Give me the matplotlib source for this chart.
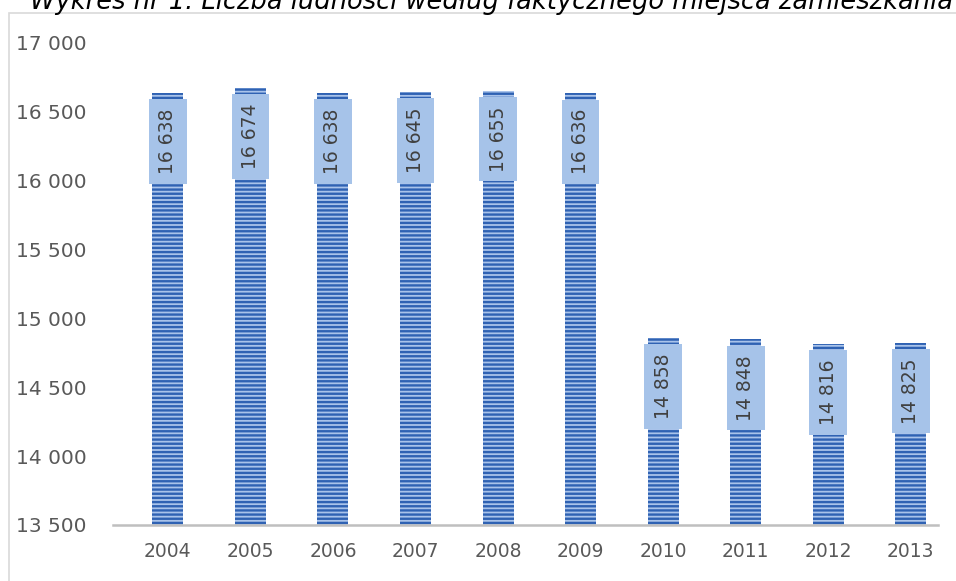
import matplotlib
matplotlib.use("Agg")
import matplotlib.pyplot as plt
from matplotlib.patches import Rectangle

# data
years = ["2004", "2005", "2006", "2007", "2008", "2009", "2010", "2011", "2012", "2013"]
population = [16638, 16674, 16638, 16645, 16655, 16636, 14858, 14848, 14816, 14825]
y_ticks = [13500, 14000, 14500, 15000, 15500, 16000, 16500, 17000]
title = "Wykres nr 1. Liczba ludności według faktycznego miejsca zamieszkania"


def fmt(v):
    return f"{v:,}".replace(",", " ")


def main():
    plt.rcParams["font.family"] = ["DejaVu Sans"]
    plt.rcParams["hatch.linewidth"] = 1.7

    fig = plt.figure(figsize=(9.56, 5.81), dpi=100)
    ax = fig.add_axes([113 / 956, 56 / 581, 825 / 956, 482 / 581])

    # chart frame (cut by the image edges)
    fig.patches.append(Rectangle((9 / 956, -0.1), 1.2, 1.1 - 13 / 581,
                                 transform=fig.transFigure, fill=False,
                                 edgecolor="#d9d9d9", linewidth=1.2))

    x = list(range(len(years)))
    ax.bar(x, population, width=0.375, color="#a9c3ea", edgecolor="#2f62b3",
           hatch="----", linewidth=0)

    for xi, v in zip(x, population):
        ax.annotate(fmt(v), (xi, v), xytext=(0, -35), textcoords="offset points",
                    rotation=90, ha="center", va="center", fontsize=13.5,
                    color="#404040",
                    bbox=dict(boxstyle="square,pad=0.5", fc="#a6c3e9", ec="none"))

    ax.set_xlim(-0.665, 9.33)
    ax.set_ylim(13500, 17000)
    ax.set_xticks(x)
    ax.set_xticklabels(years)
    ax.set_yticks(y_ticks)
    ax.set_yticklabels([fmt(t) for t in y_ticks])
    ax.tick_params(axis="both", length=0, colors="#595959")
    ax.tick_params(axis="y", pad=19, labelsize=14.5)
    ax.tick_params(axis="x", pad=12, labelsize=13.5)

    for s in ["top", "right", "left"]:
        ax.spines[s].set_visible(False)
    ax.spines["bottom"].set_color("#bfbfbf")
    ax.spines["bottom"].set_linewidth(1.8)
    ax.patch.set_alpha(0)

    fig.text(30 / 956, 1 - 9 / 581, title, fontsize=18.5, style="italic",
             ha="left", va="baseline", color="#000000")

    fig.savefig("out.png", dpi=100)


if __name__ == "__main__":
    main()
